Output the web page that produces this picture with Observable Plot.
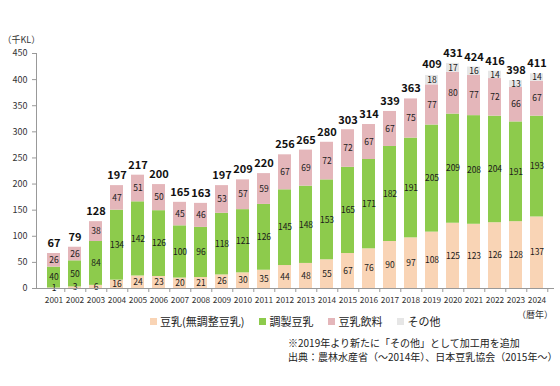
<!DOCTYPE html>
<html>
<head>
<meta charset="utf-8">
<script src="https://cdn.jsdelivr.net/npm/d3@7"></script>
<script src="https://cdn.jsdelivr.net/npm/@observablehq/plot@0.6"></script>
<style>
  body { margin: 0; background: #fff; }
  #wrap { position: relative; width: 560px; height: 386px; font-family: "Noto Sans CJK JP", "Noto Sans", sans-serif; color: #222; }
  #legend { position: absolute; left: 150px; top: 313px; display: flex; align-items: center; font-size: 11px; white-space: nowrap; }
  #legend .item { display: flex; align-items: center; margin-right: 15px; }
  #legend .sw { width: 7px; height: 7px; margin-right: 3px; }
  #unitx { position: absolute; left: 517px; top: 308px; font-size: 9px; color: #333; }
  #notes { position: absolute; left: 288px; top: 336px; font-size: 10px; line-height: 14px; white-space: nowrap; color: #222; }
</style>
</head>
<body>
<div id="wrap">
  <div id="chart"></div>
  <div id="legend"></div>
  <div id="unitx">（暦年）</div>
  <div id="notes">※2019年より新たに「その他」として加工用を追加<br>出典：農林水産省（～2014年）、日本豆乳協会（2015年～）</div>
</div>
<script>
const years = ["2001","2002","2003","2004","2005","2006","2007","2008","2009","2010","2011","2012","2013","2014","2015","2016","2017","2018","2019","2020","2021","2022","2023","2024"];
const plainSoymilk = [1,3,6,16,24,23,20,21,26,30,35,44,48,55,67,76,90,97,108,125,123,126,128,137];
const preparedSoymilk = [40,50,84,134,142,126,100,96,118,121,126,145,148,153,165,171,182,191,205,209,208,204,191,193];
const soyDrink = [26,26,38,47,51,50,45,46,53,57,59,67,69,72,72,67,67,75,77,80,77,72,66,67];
const other = [0,0,0,0,0,0,0,0,0,0,0,0,0,0,0,0,0,0,18,17,16,14,13,14];
const totals = [67,79,128,197,217,200,165,163,197,209,220,256,265,280,303,314,339,363,409,431,424,416,398,411];
const seriesNames = ["豆乳(無調整豆乳)", "調製豆乳", "豆乳飲料", "その他"];
const seriesColors = ["#f9d4b5", "#8dcb4c", "#e4b6ba", "#e6e6e6"];
const yTicks = [0,50,100,150,200,250,300,350,400,450];

const seriesValues = [plainSoymilk, preparedSoymilk, soyDrink, other];
const long = [];
years.forEach((y, i) => {
  seriesValues.forEach((vals, s) => {
    long.push({year: y, series: seriesNames[s], value: vals[i]});
  });
});
const totalData = years.map((y, i) => ({year: y, total: totals[i]}));

const W = 560, ML = 36, MR = 6;
const step = (W - ML - MR) / years.length;

const font = '"Noto Sans CJK JP", "Noto Sans", sans-serif';

const chart = Plot.plot({
  width: W,
  height: 310,
  marginTop: 53,
  marginBottom: 22,
  marginLeft: ML,
  marginRight: MR,
  style: {fontFamily: font, fontSize: "9px", color: "#333", background: "transparent"},
  x: {domain: years, paddingInner: 0.4, paddingOuter: 0.2, label: null},
  y: {domain: [0, 450], label: null},
  color: {domain: seriesNames, range: seriesColors},
  marks: [
    Plot.barY(long, {x: "year", y: "value", fill: "series", z: "series", order: seriesNames}),
    Plot.text(long.filter(d => d.value > 0), Plot.stackY({x: "year", y: "value", z: "series", order: seriesNames, text: d => d.value, fontSize: 8.5, fill: "#1a1a1a"})),
    Plot.text(totalData, {x: "year", y: "total", text: "total", dy: -10, fontWeight: "bold", fontSize: 11, fill: "#111"}),
    Plot.text(["（千KL）"], {frameAnchor: "top-left", dx: -34, dy: -17, textAnchor: "start", fontSize: 9, fill: "#333"}),
    Plot.axisY({ticks: yTicks, tickSize: 4, tickPadding: 5, stroke: "#999", fill: "#333", fontSize: 9}),
    Plot.frame({anchor: "left", stroke: "#999"}),
    Plot.ruleY([0], {stroke: "#999"}),
    Plot.axisX({tickSize: 0, tickPadding: 9, fill: "#333", fontSize: 8.3}),
    Plot.axisX({tickSize: 4, text: null, dx: step / 2, stroke: "#999"})
  ]
});
document.getElementById("chart").appendChild(chart);

const legend = document.getElementById("legend");
seriesNames.forEach((name, i) => {
  const item = document.createElement("div");
  item.className = "item";
  const sw = document.createElement("span");
  sw.className = "sw";
  sw.style.background = seriesColors[i];
  const t = document.createElement("span");
  t.textContent = name;
  item.appendChild(sw);
  item.appendChild(t);
  legend.appendChild(item);
});
</script>
</body>
</html>
